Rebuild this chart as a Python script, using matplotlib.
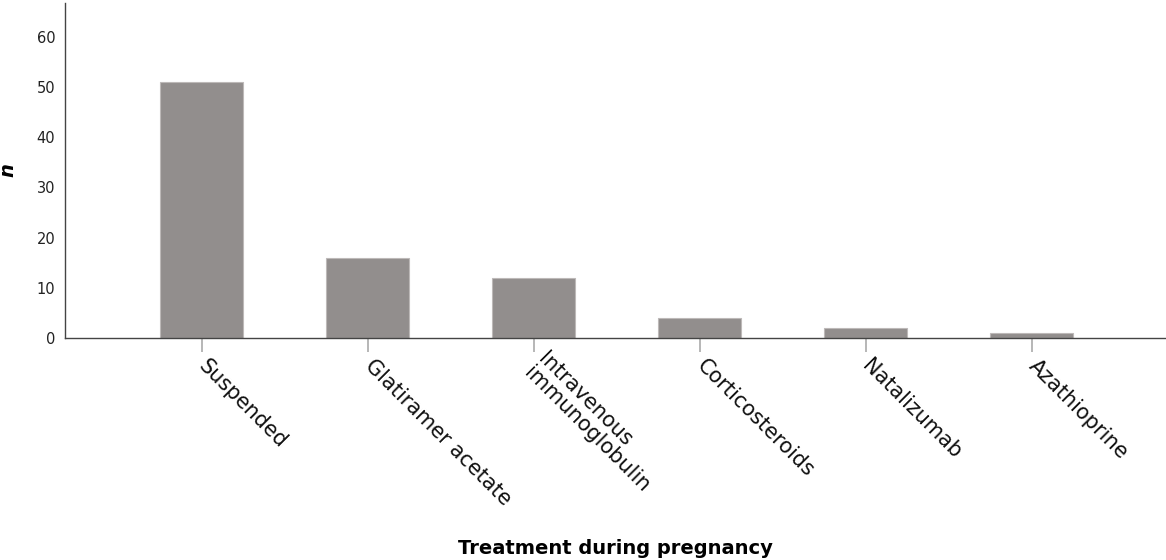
import matplotlib
matplotlib.use("Agg")
import matplotlib.pyplot as plt

categories = ["Suspended", "Glatiramer acetate", "Intravenous\nimmunoglobulin",
              "Corticosteroids", "Natalizumab", "Azathioprine"]
values = [51, 16, 12, 4, 2, 1]
yticks = [0, 10, 20, 30, 40, 50, 60]

plt.rcParams['font.family'] = ['DejaVu Sans']
fig = plt.figure(figsize=(11.66, 5.6), dpi=100)
ax = fig.add_axes([65/1166, (560-338)/560, 1 - 65/1166, (338-3)/560])

x = list(range(len(categories)))
ax.bar(x, values, width=0.5, color="#928e8d", edgecolor="#bdb9b8", linewidth=0.8)

ax.set_xlim(-0.825, 5.81)
ax.set_ylim(0, 66.7)
ax.set_yticks(yticks)
ax.set_yticklabels([str(t) for t in yticks], fontsize=10.5, color="#222222")
ax.tick_params(axis='y', length=0, pad=7)
ax.set_xticks(x)
ax.set_xticklabels(categories, rotation=-45, ha='left', va='center',
                   rotation_mode='anchor', fontsize=15, color="#111111",
                   linespacing=1.0)
ax.tick_params(axis='x', length=10, color="#aaaaaa", width=1.2, pad=8)

for s in ['top', 'right']:
    ax.spines[s].set_visible(False)
for s in ['left', 'bottom']:
    ax.spines[s].set_color("#444444")
    ax.spines[s].set_linewidth(1.0)

ax.set_ylabel("n", fontsize=14, fontweight='bold', fontstyle='italic')
ax.yaxis.set_label_coords(-(65-17)/1101, 0.5)
ax.set_xlabel("Treatment during pregnancy", fontsize=14, fontweight='bold')
ax.xaxis.set_label_coords((615-65)/1101, -(539-338)/335)

fig.savefig("out.png", dpi=100)
